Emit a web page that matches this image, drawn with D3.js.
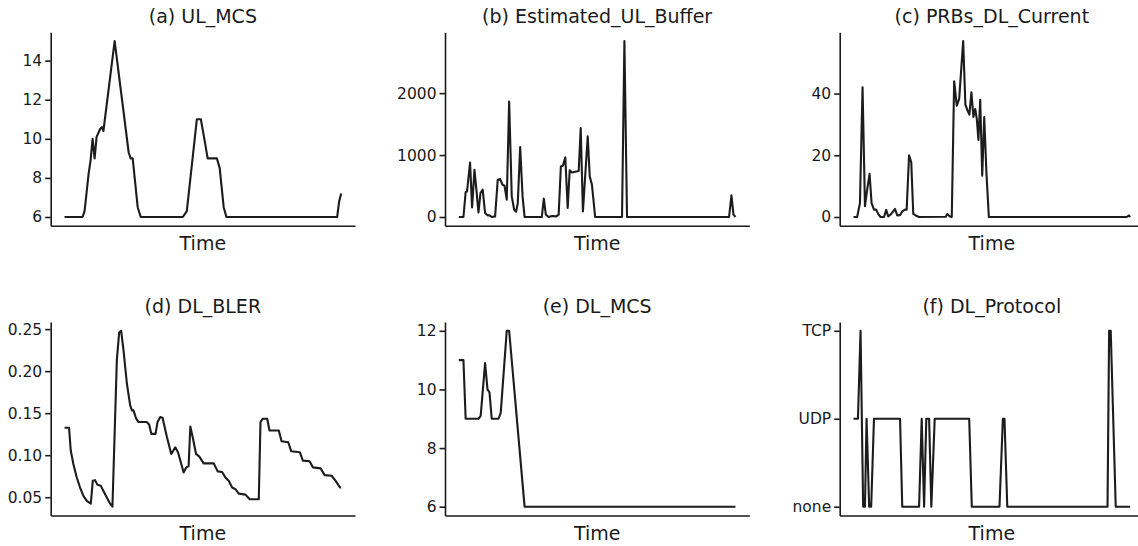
<!DOCTYPE html>
<html>
<head>
<meta charset="utf-8">
<script src="https://cdn.jsdelivr.net/npm/d3@7"></script>
<style>
    body { margin: 0; background: #fff; }
    text { font-family: "DejaVu Sans", sans-serif; fill: #1a1a1a; }
</style>
</head>
<body>
<script>
// time index of each vertex, value at that vertex
const ulMcsTime = [0, 9, 10, 12, 13, 14, 15, 16, 17.75, 18.6, 19.4, 25, 32, 33, 34, 36.5, 38, 59, 61, 66, 68, 69.75, 71.4, 76, 77.4, 79.4, 80.75, 136, 137, 138];
const ulMcsValue = [6, 6, 6.3, 8.2, 8.9, 10, 9, 10.1, 10.5, 10.6, 10.4, 15, 9.3, 9, 9, 6.5, 6, 6, 6.3, 11, 11, 10, 9, 9, 8.5, 6.5, 6, 6, 6.8, 7.2];

const ulBufferTime = [0, 2.3, 3.4, 4.1, 5.6, 6.6, 7.8, 8.6, 9.8, 10.8, 11.9, 13.1, 14.3, 15.3, 16.4, 18.1, 19.4, 20.6, 21.8, 22.8, 23.9, 25.1, 26.4, 27.6, 28.6, 29.4, 30.6, 31.8, 32.8, 41.4, 42.4, 43.4, 44.8, 46.5, 48.6, 49.8, 50.9, 51.9, 53.1, 54.3, 55.3, 56.4, 58.1, 59.8, 60.8, 61.9, 64.3, 65.3, 66.4, 68, 81.4, 82.6, 83.9, 134.8, 136, 137, 138];
const ulBufferValue = [0, 0, 400, 414, 880, 156, 763, 495, 75, 387, 441, 64, 27, 27, 0, 10, 602, 613, 521, 505, 280, 1865, 333, 118, 86, 225, 1129, 333, 0, 0, 296, 38, 0, 15, 10, 38, 817, 828, 962, 145, 753, 720, 731, 742, 1435, 91, 1301, 656, 521, 0, 0, 2840, 0, 0, 349, 38, 0];

const prbTime = [0, 1.8, 3.2, 4.5, 5.7, 6.8, 8, 9, 10.2, 11.3, 12.3, 13.5, 15.2, 16.3, 17.3, 18.5, 20.7, 21.8, 23.2, 24.3, 25.7, 26.5, 27.7, 28.8, 29.8, 31, 32.7, 46, 46.8, 48, 49, 50.2, 51.5, 52.7, 54.7, 55.8, 56.8, 57.8, 58.8, 59.8, 60.7, 61.5, 62.3, 63.2, 64.2, 65.2, 66.3, 67.5, 136.3, 137.3, 138];
const prbValue = [0, 0, 4.5, 42, 3.5, 8.9, 14, 4.5, 2.4, 2.4, 1, 0, 0, 2.3, 0.2, 0.8, 2.6, 0.5, 0.6, 1.8, 2.4, 2.4, 20, 17.7, 1, 0.5, 0, 0.1, 1, 0.2, 0, 44, 36.1, 38.3, 57, 36.4, 34.6, 33.2, 40.4, 32.4, 35, 31.8, 25, 38, 13.4, 32.4, 14.3, 0, 0, 0.5, 0];

const blerTime = [0, 2.25, 3.1, 4.4, 6.1, 7.75, 9.4, 11.1, 13.1, 14.1, 15.25, 16.4, 18.1, 19.4, 21.1, 22.75, 23.9, 26.1, 27.25, 28.25, 29.4, 31.1, 32.75, 33.6, 34.4, 35.75, 36.9, 41.1, 42.25, 43.25, 45.4, 46.4, 47.75, 48.9, 51.1, 53.25, 55.25, 56.6, 58.25, 59.4, 60.75, 61.9, 62.75, 64.1, 65.6, 67.25, 69.4, 74.4, 76.4, 78.6, 80.25, 81.9, 83.6, 85.25, 86.9, 90.25, 92.4, 96.9, 97.75, 98.9, 101.1, 102.25, 106.9, 108.25, 111.6, 113.1, 117.4, 118.9, 122.25, 123.9, 127.75, 129.75, 133.25, 135.25, 137.4, 138];
const blerValue = [0.1326, 0.1326, 0.1055, 0.0895, 0.0735, 0.0615, 0.0516, 0.0456, 0.0423, 0.0695, 0.0703, 0.0647, 0.0635, 0.0575, 0.0496, 0.0423, 0.0387, 0.2133, 0.246, 0.248, 0.2252, 0.1853, 0.1593, 0.1533, 0.1533, 0.1434, 0.1394, 0.1394, 0.1362, 0.1254, 0.1254, 0.1394, 0.1453, 0.1445, 0.1214, 0.1015, 0.1094, 0.1034, 0.0895, 0.0795, 0.0855, 0.087, 0.1342, 0.1195, 0.1015, 0.0983, 0.0903, 0.0903, 0.0807, 0.08, 0.0735, 0.0695, 0.0615, 0.0596, 0.0543, 0.0531, 0.0476, 0.0476, 0.1394, 0.1434, 0.1434, 0.1294, 0.1294, 0.1166, 0.1154, 0.1046, 0.1034, 0.0935, 0.0927, 0.0855, 0.0843, 0.0763, 0.0755, 0.0695, 0.0615, 0.0615];

const dlMcsTime = [0, 2.3, 3.4, 9.8, 10.9, 13.1, 14.3, 15.3, 16.4, 19.8, 20.9, 23.9, 25.1, 32.8, 138];
const dlMcsValue = [11, 11, 9, 9, 9.1, 10.9, 10, 9.9, 9, 9, 9.2, 12, 12, 6, 6];

// 0 = none, 1 = UDP, 2 = TCP
const protocolLabels = ["none", "UDP", "TCP"];
const protocolTime = [0, 2.2, 3.5, 4.8, 5.7, 6.5, 7.8, 8.8, 10.2, 23.2, 24.3, 32.7, 34, 35.2, 36.3, 37.7, 38.8, 40.5, 57.7, 59, 72.8, 74.5, 75.3, 76.7, 126.7, 127.5, 128.3, 130.8, 138];
const protocolValue = [1, 1, 2, 0, 0, 1, 0, 0, 1, 1, 0, 0, 1, 0, 1, 1, 0, 1, 1, 0, 0, 1, 1, 0, 0, 2, 2, 0, 0];

const svgWidth = 1138;
const svgHeight = 546;
const panelWidth = 304.3;
const panelHeight = 193.5;
const colX = [50.7, 445, 839.7];
const rowY = [32.3, 322];

const intFormat = d3.format("d");
const panels = [
    { title: "(a) UL_MCS", t: ulMcsTime, v: ulMcsValue, ticks: [6, 8, 10, 12, 14], format: intFormat },
    { title: "(b) Estimated_UL_Buffer", t: ulBufferTime, v: ulBufferValue, ticks: [0, 1000, 2000], format: intFormat },
    { title: "(c) PRBs_DL_Current", t: prbTime, v: prbValue, ticks: [0, 20, 40], format: intFormat },
    { title: "(d) DL_BLER", t: blerTime, v: blerValue, ticks: [0.05, 0.10, 0.15, 0.20, 0.25], format: d3.format(".2f") },
    { title: "(e) DL_MCS", t: dlMcsTime, v: dlMcsValue, ticks: [6, 8, 10, 12], format: intFormat },
    { title: "(f) DL_Protocol", t: protocolTime, v: protocolValue, ticks: [0, 1, 2], format: (d) => protocolLabels[d] }
];

let svg = d3.select("body")
    .append("svg")
    .attr("width", svgWidth)
    .attr("height", svgHeight);

panels.forEach((p, i) => drawPanel(p, colX[i % 3], rowY[Math.floor(i / 3)]));

function drawPanel(p, left, top) {
    const data = p.t.map((t, k) => ({ t: t, v: p.v[k] }));
    const bottom = top + panelHeight;

    //scales, matplotlib style 5% margins
    const [tMin, tMax] = d3.extent(p.t);
    const tPad = (tMax - tMin) * 0.05;
    let xScale = d3.scaleLinear().domain([tMin - tPad, tMax + tPad]).range([left, left + panelWidth]);

    const [vMin, vMax] = d3.extent(p.v);
    const vPad = (vMax - vMin) * 0.05;
    let yScale = d3.scaleLinear().domain([vMin - vPad, vMax + vPad]).range([bottom, top]);

    //axes
    const yAxis = d3.axisLeft(yScale).tickValues(p.ticks).tickFormat(p.format)
        .tickSize(5.5).tickPadding(3).tickSizeOuter(0);
    let gy = svg.append("g").attr("transform", `translate(${left}, 0)`).call(yAxis);
    gy.attr("font-size", 15.5).attr("font-family", null);
    gy.selectAll("path, line").attr("stroke", "#1a1a1a").attr("stroke-width", 1.6);

    const xAxis = d3.axisBottom(xScale).tickValues([]).tickSizeOuter(0);
    let gx = svg.append("g").attr("transform", `translate(0, ${bottom})`).call(xAxis);
    gx.select("path").attr("stroke", "#1a1a1a").attr("stroke-width", 1.6);

    //line
    const line = d3.line().x((d) => xScale(d.t)).y((d) => yScale(d.v));
    svg.append("path")
        .datum(data)
        .attr("d", line)
        .attr("fill", "none")
        .attr("stroke", "#1c1c1c")
        .attr("stroke-width", 2.1)
        .attr("stroke-linejoin", "round");

    //title
    svg.append("text")
        .attr("x", left + panelWidth / 2)
        .attr("y", top - 9)
        .attr("text-anchor", "middle")
        .attr("font-size", 19)
        .text(p.title);

    //x label
    svg.append("text")
        .attr("x", left + panelWidth / 2)
        .attr("y", bottom + 24.5)
        .attr("text-anchor", "middle")
        .attr("font-size", 19)
        .text("Time");
}
</script>
</body>
</html>
